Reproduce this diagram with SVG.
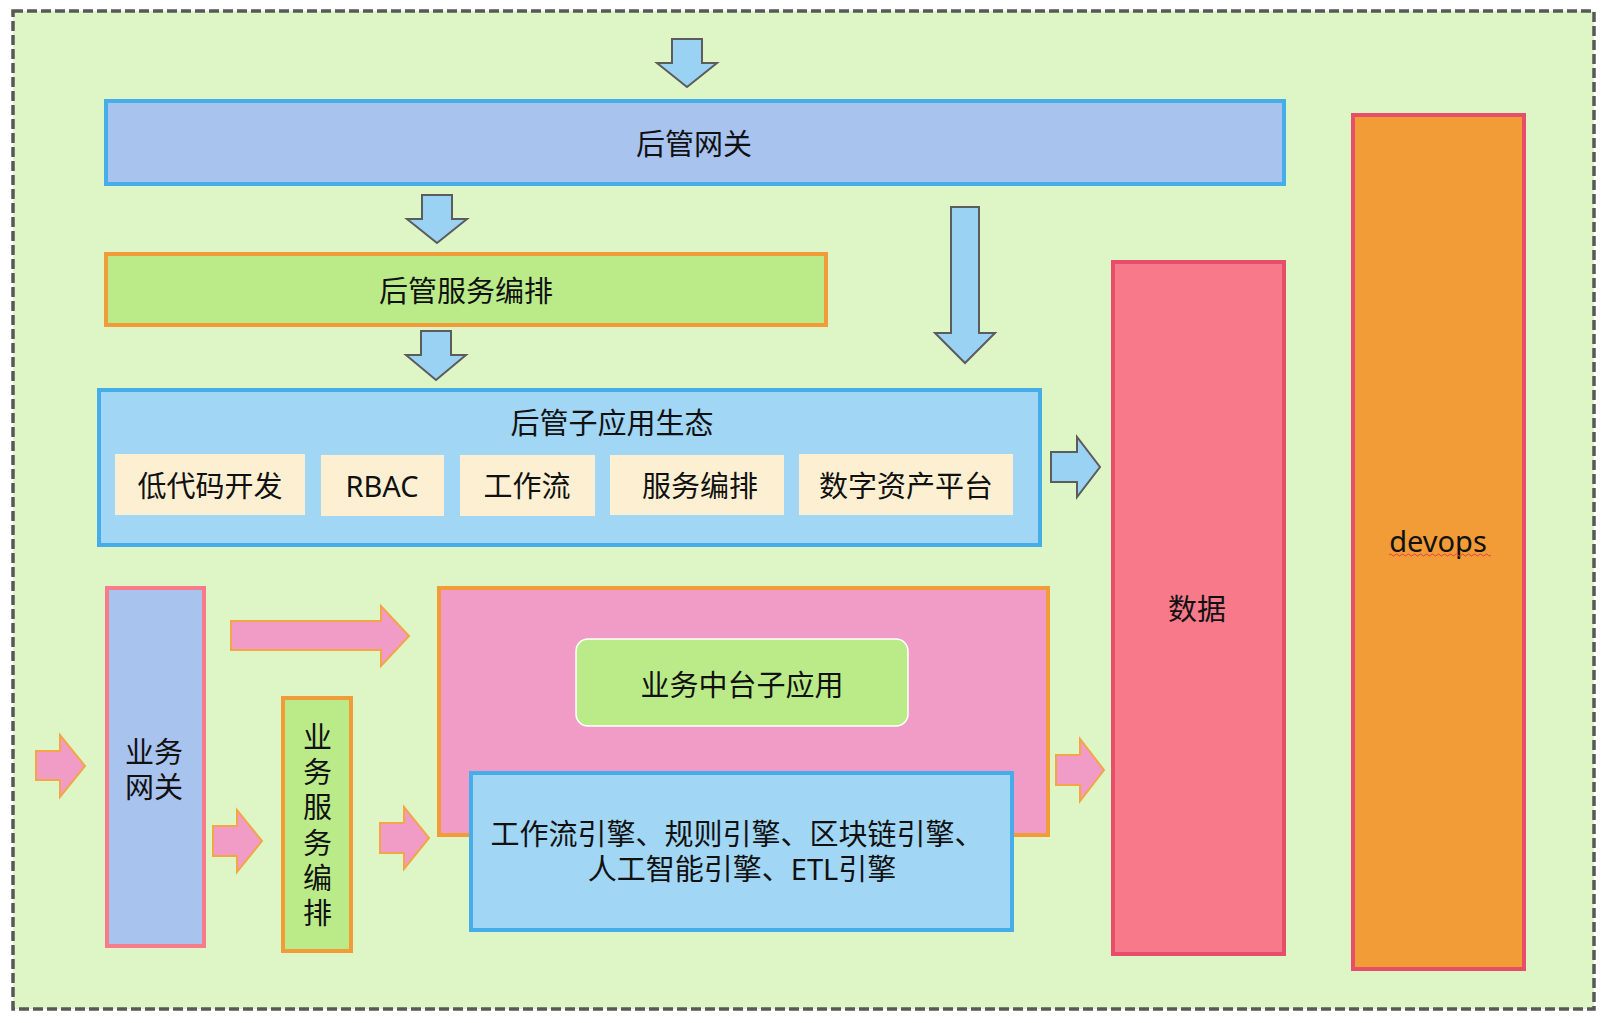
<svg xmlns="http://www.w3.org/2000/svg" width="1608" height="1023" viewBox="0 0 1608 1023">
<style>
text{font-family:"Noto Sans","Noto Sans CJK SC",sans-serif;font-size:29px;fill:#111;text-anchor:middle;dominant-baseline:central}
.blueArrow{fill:#9ad2f3;stroke:#5c5c5c;stroke-width:2;stroke-linejoin:miter}
.pinkArrow{fill:#f19cc7;stroke:#f2a646;stroke-width:2}
.cream{fill:#fdf0d2}
</style>
<rect x="0" y="0" width="1608" height="1023" fill="#ffffff"/>
<rect id="frame" x="13" y="11" width="1581" height="998" fill="#def5c6" stroke="#585858" stroke-width="3.5" stroke-dasharray="10 4"/>

<g id="houguan-gateway">
<rect x="106" y="101" width="1178" height="83" fill="#a9c3ef" stroke="#45aeea" stroke-width="4"/>
<text x="694" y="143">后管网关</text>
</g>

<g id="houguan-orchestration">
<rect x="106" y="254" width="720" height="71" fill="#bbeb89" stroke="#f19c38" stroke-width="4"/>
<text x="466" y="290">后管服务编排</text>
</g>

<g id="houguan-ecosystem">
<rect x="99" y="390" width="941" height="155" fill="#a1d6f5" stroke="#45aeea" stroke-width="4"/>
<text x="612" y="422">后管子应用生态</text>
<rect class="cream" x="115" y="454" width="190" height="61"/>
<text x="210" y="485">低代码开发</text>
<rect class="cream" x="321" y="455" width="123" height="61"/>
<text x="382" y="485">RBAC</text>
<rect class="cream" x="460" y="455" width="135" height="61"/>
<text x="527" y="485">工作流</text>
<rect class="cream" x="610" y="455" width="174" height="60"/>
<text x="700" y="485">服务编排</text>
<rect class="cream" x="799" y="454" width="214" height="61"/>
<text x="906" y="485">数字资产平台</text>
</g>

<g id="data">
<rect x="1113" y="262" width="171" height="692" fill="#f7798a" stroke="#e64e69" stroke-width="4"/>
<text x="1197" y="608">数据</text>
</g>

<g id="devops">
<rect x="1353" y="115" width="171" height="854" fill="#f29c38" stroke="#e64e69" stroke-width="4"/>
<text x="1438" y="540">devops</text>
<path d="M1389 555 q1.5 -2 3 0 t3 0 t3 0 t3 0 t3 0 t3 0 t3 0 t3 0 t3 0 t3 0 t3 0 t3 0 t3 0 t3 0 t3 0 t3 0 t3 0 t3 0 t3 0 t3 0 t3 0 t3 0 t3 0 t3 0 t3 0 t3 0 t3 0 t3 0 t3 0 t3 0 t3 0 t3 0 t3 0 t3 0" fill="none" stroke="#e8404a" stroke-width="1"/>
</g>

<g id="biz-gateway">
<rect x="107" y="588" width="97" height="358" fill="#a9c3ef" stroke="#f77b8a" stroke-width="4"/>
<text x="154" y="751"><tspan x="154" y="751">业务</tspan><tspan x="154" y="786">网关</tspan></text>
</g>

<g id="biz-orchestration">
<rect x="283" y="698" width="68" height="253" fill="#bbeb89" stroke="#f19c38" stroke-width="4"/>
<text x="316" y="722.5" style="writing-mode:vertical-rl;text-anchor:start;letter-spacing:6.2px">业务服务编排</text>
</g>

<g id="biz-platform">
<rect x="439" y="588" width="609" height="247" fill="#f19cc7" stroke="#f19c38" stroke-width="4"/>
<rect x="576" y="639" width="332" height="87" rx="12" ry="12" fill="#bbeb89" stroke="#ffffff" stroke-width="1.5"/>
<text x="742" y="684">业务中台子应用</text>
</g>

<g id="engines">
<rect x="471" y="773" width="541" height="157" fill="#a1d6f5" stroke="#45aeea" stroke-width="4"/>
<text x="737" y="833"><tspan x="737" y="833">工作流引擎、规则引擎、区块链引擎、</tspan><tspan x="742" y="868">人工智能引擎、ETL引擎</tspan></text>
</g>

<g id="connectors">
<path class="blueArrow" d="M672 39 H702 V63 H717 L687 87 L657 63 H672 Z"/>
<path class="blueArrow" d="M422 195 H452 V219 H467 L437 243 L407 219 H422 Z"/>
<path class="blueArrow" d="M421 331 H451 V355 H466 L436 380 L406 355 H421 Z"/>
<path class="blueArrow" d="M951 207 H979 V333 H995 L965 363 L935 333 H951 Z"/>
<path class="blueArrow" d="M1051 452 V482 H1077 V497 L1100 467 L1077 437 V452 Z"/>
<path class="pinkArrow" d="M231 621 H381 V606 L409 636 L381 666 V650 H231 Z"/>
<path class="pinkArrow" d="M36 751 H60 V735 L85 766 L60 797 V780 H36 Z"/>
<path class="pinkArrow" d="M213 826 H237 V810 L262 841 L237 872 V856 H213 Z"/>
<path class="pinkArrow" d="M380 823 H404 V807 L429 838 L404 869 V853 H380 Z"/>
<path class="pinkArrow" d="M1056 755 H1080 V739 L1104 770 L1080 801 V785 H1056 Z"/>
</g>
</svg>
